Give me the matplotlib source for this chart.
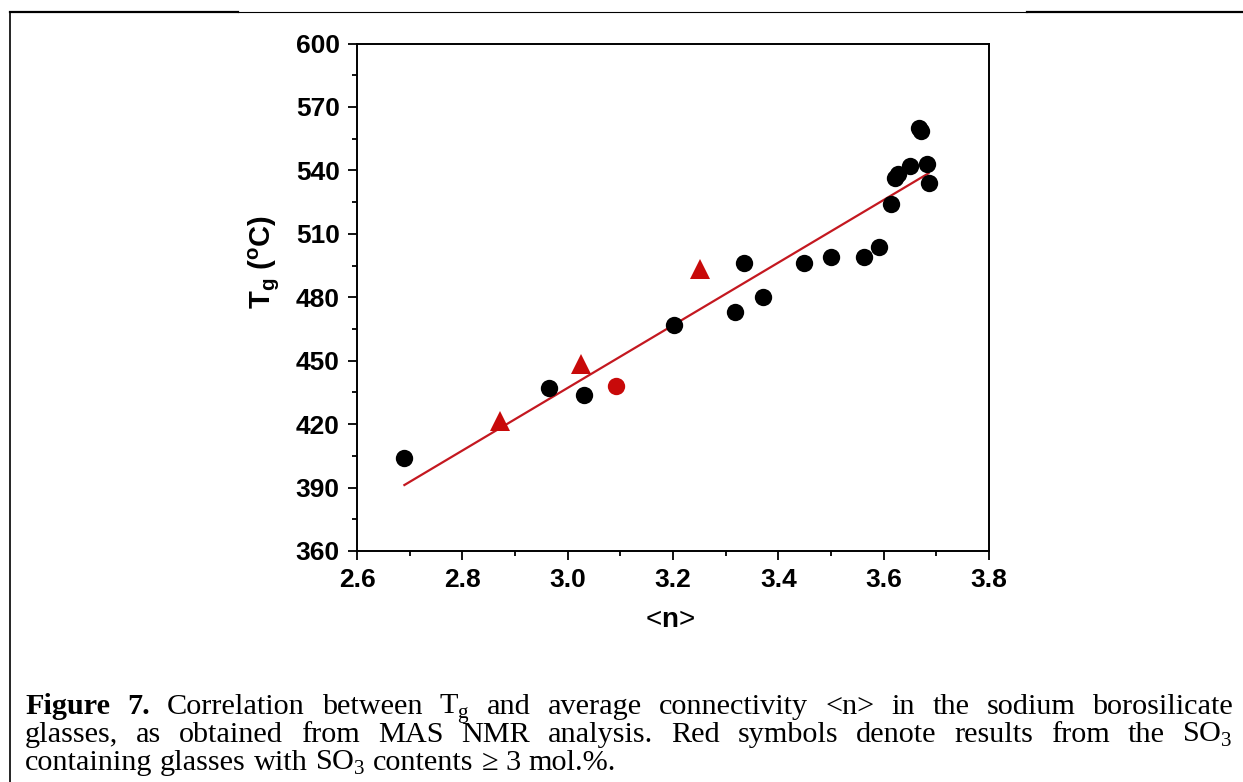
import matplotlib
matplotlib.use("Agg")
import matplotlib.pyplot as plt
from matplotlib.lines import Line2D
from matplotlib.ticker import MultipleLocator

plt.rcParams['font.family'] = ['Liberation Sans', 'DejaVu Sans']
plt.rcParams['mathtext.fontset'] = 'custom'
plt.rcParams['mathtext.rm'] = 'Liberation Sans'
plt.rcParams['mathtext.bf'] = 'Liberation Sans:bold'

# glasses without SO3 (black circles)
black_n = [2.690, 2.965, 3.031, 3.201, 3.318, 3.334, 3.370, 3.449, 3.500,
           3.563, 3.592, 3.613, 3.622, 3.627, 3.650, 3.668, 3.671, 3.683, 3.686]
black_tg = [404, 437, 434, 467, 473, 496, 480, 496, 499,
            499, 504, 524, 536.5, 538.5, 542, 560, 558.5, 543, 534]

# SO3 containing glasses (red)
red_tri_n = [2.872, 3.025, 3.251]
red_tri_tg = [421.5, 448.5, 493.5]
red_dot_n = [3.092]
red_dot_tg = [438]

# linear fit line, end points
fit_n = [2.69, 3.685]
fit_tg = [391.2, 538.6]

x_ticks = [2.6, 2.8, 3.0, 3.2, 3.4, 3.6, 3.8]
y_ticks = [360, 390, 420, 450, 480, 510, 540, 570, 600]

caption = [
    [("Figure", True), ("7.", True), ("Correlation", False), ("between", False),
     ("T$_\\mathregular{g}$", False), ("and", False), ("average", False),
     ("connectivity", False), ("<n>", False), ("in", False), ("the", False),
     ("sodium", False), ("borosilicate", False)],
    [("glasses,", False), ("as", False), ("obtained", False), ("from", False),
     ("MAS", False), ("NMR", False), ("analysis.", False), ("Red", False),
     ("symbols", False), ("denote", False), ("results", False), ("from", False),
     ("the", False), ("SO$_\\mathregular{3}$", False)],
    [("containing", False), ("glasses", False), ("with", False),
     ("SO$_\\mathregular{3}$", False), ("contents", False), ("\u2265", False),
     ("3", False), ("mol.%.", False)],
]

W, H = 1243, 782
fig = plt.figure(figsize=(W / 100, H / 100), dpi=100)
ax = fig.add_axes([357 / W, 1 - 551 / H, (989 - 357) / W, (551 - 43.5) / H])

red = '#c80a0a'
ax.plot(fit_n, fit_tg, color='#c41820', lw=1.6, zorder=2)
ax.plot(black_n, black_tg, 'o', color='black', ms=12.5, mew=0, zorder=3)
ax.plot(red_tri_n, red_tri_tg, '^', color=red, ms=14, mew=0, zorder=3)
ax.plot(red_dot_n, red_dot_tg, 'o', color=red, ms=12.5, mew=0, zorder=3)

ax.set_xlim(2.6, 3.8)
ax.set_ylim(360, 600)
ax.set_xticks(x_ticks)
ax.set_yticks(y_ticks)
ax.set_xticklabels([f"{v:.1f}" for v in x_ticks])
ax.xaxis.set_minor_locator(MultipleLocator(0.1))
ax.yaxis.set_minor_locator(MultipleLocator(15))
ax.tick_params(which='both', direction='out', width=1.3, top=False, right=False)
ax.tick_params(which='major', length=6.5, pad=6, labelsize=19)
ax.tick_params(which='minor', length=3.5)
for lab in ax.get_xticklabels() + ax.get_yticklabels():
    lab.set_fontweight('bold')
for s in ax.spines.values():
    s.set_linewidth(1.4)

fig.text(265 / W, 1 - 262 / H, "T$_\\mathregular{g}$ ($^\\mathregular{o}$C)",
         rotation=90, ha='center', va='center', fontsize=21, fontweight='bold')
fig.text(670 / W, 1 - 620 / H, "<$\\mathbf{n}$>", ha='center', va='center',
         fontsize=20)

# frame of the figure box
fig.add_artist(Line2D([9.5 / W, 238 / W], [1 - 12 / H] * 2, color='black', lw=1.6))
fig.add_artist(Line2D([238 / W, 1027 / W], [1 - 12 / H] * 2, color='black', lw=0.8))
fig.add_artist(Line2D([1027 / W, 1], [1 - 12 / H] * 2, color='black', lw=1.6))
fig.add_artist(Line2D([9.5 / W] * 2, [1 - 12 / H, 0], color='black', lw=1.2))

# caption, justified like the page
renderer = fig.canvas.get_renderer()
serif = ['Liberation Serif', 'DejaVu Serif']
plt.rcParams['mathtext.rm'] = 'Liberation Serif'


def make_words(words, fs):
    arts = []
    for w, bold in words:
        arts.append(fig.text(0, 0, w, fontsize=fs, family=serif,
                             fontweight='bold' if bold else 'normal', va='baseline'))
    return arts


probe = fig.text(0, 0, "a a", fontsize=10, family=serif)
probe2 = fig.text(0, 0, "aa", fontsize=10, family=serif)
space10 = probe.get_window_extent(renderer).width - probe2.get_window_extent(renderer).width
probe.remove()
probe2.remove()

x0, x1 = 25, 1233
last_w = 618 - x0
tmp = make_words(caption[2], 10)
nat = sum(t.get_window_extent(renderer).width for t in tmp) + space10 * (len(tmp) - 1)
for t in tmp:
    t.remove()
cap_fs = 10 * last_w / nat
space = space10 * cap_fs / 10

baselines = [714, 742, 770]
for i, words in enumerate(caption):
    arts = make_words(words, cap_fs)
    widths = [t.get_window_extent(renderer).width for t in arts]
    if i < len(caption) - 1:
        gap = (x1 - x0 - sum(widths)) / (len(arts) - 1)
    else:
        gap = space
    x = x0
    for t, w in zip(arts, widths):
        t.set_position((x / W, 1 - baselines[i] / H))
        x += w + gap

fig.savefig("out.png", dpi=100)
